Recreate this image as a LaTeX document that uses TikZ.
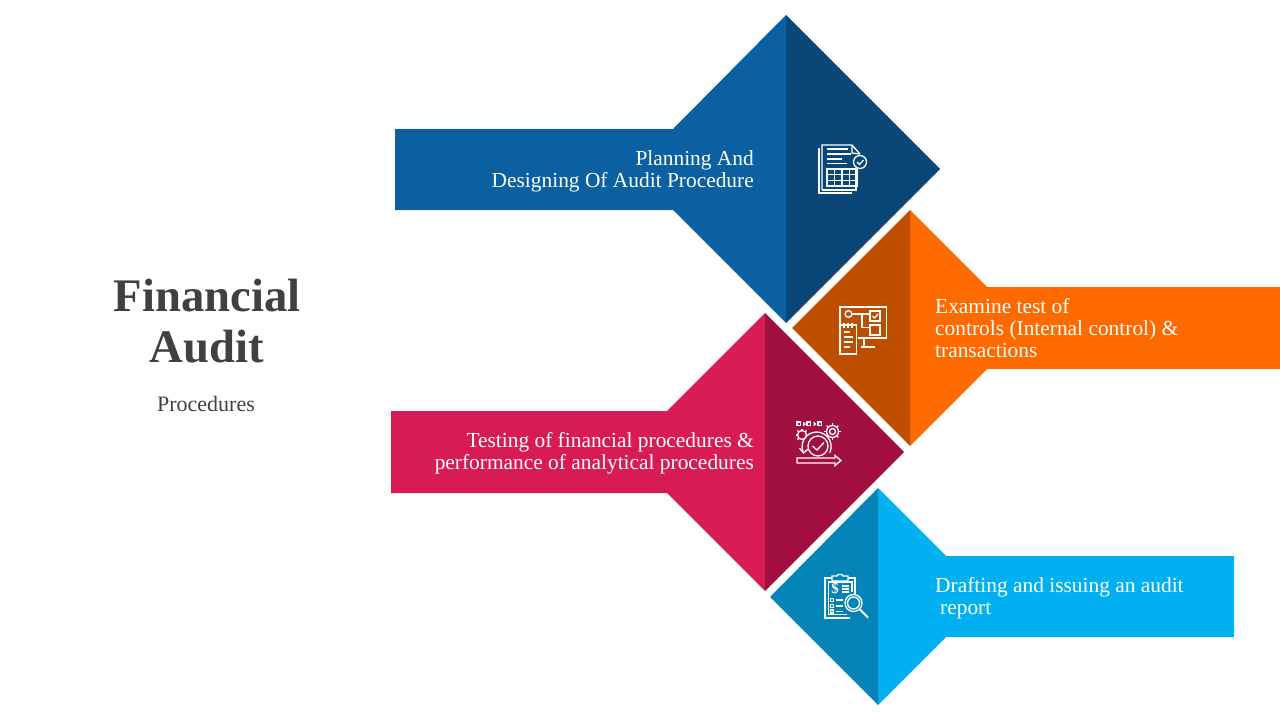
\documentclass[tikz,border=0pt]{standalone}
\usepackage{fontspec}
\setmainfont{Liberation Serif}
\usetikzlibrary{arrows.meta, positioning}
\definecolor{cblue}{HTML}{0B60A1}
\definecolor{cbluedark}{HTML}{0A4677}
\definecolor{corange}{HTML}{FF6A00}
\definecolor{corangedark}{HTML}{BF4F00}
\definecolor{cred}{HTML}{D81B55}
\definecolor{creddark}{HTML}{A2103F}
\definecolor{ccyan}{HTML}{00B0F0}
\definecolor{ccyandark}{HTML}{0484B6}
\definecolor{ctext}{HTML}{404040}
\tikzset{
  every picture/.style={x=1pt, y=-1pt},
  steptext/.style={text=white, inner sep=0pt, font=\fontsize{21.4}{22}\selectfont},
  title/.style={text=ctext, inner sep=0pt, font=\fontsize{46.7}{51}\selectfont\bfseries, align=center},
  note/.style={text=ctext, inner sep=0pt, font=\fontsize{22}{22}\selectfont},
  icon/.style={draw=white, line width=1.3pt},
}
\begin{document}
\begin{tikzpicture}
  \useasboundingbox (0,0) rectangle (1280,720);
  % title
  \node[title] (head) at (207,321) {Financial\\Audit};
  \node[note] (sub) at (206,404) {Procedures};
  % arrows
  \fill[cblue] (395,129) -- (673,129) -- (786,15) -- (786,323) -- (673,210) -- (395,210) -- cycle;
  \fill[cbluedark] (786,15) -- (940,169) -- (786,323) -- cycle;
  \fill[corange] (910,210) -- (987,287) -- (1280,287) -- (1280,369) -- (987,369) -- (910,446) -- cycle;
  \fill[corangedark] (910,210) -- (792,328) -- (910,446) -- cycle;
  \fill[cred] (391,411) -- (667,411) -- (765,313) -- (765,591) -- (667,493) -- (391,493) -- cycle;
  \fill[creddark] (765,313) -- (904,452) -- (765,591) -- cycle;
  \fill[ccyan] (878,488) -- (946,556) -- (1234,556) -- (1234,637) -- (946,637) -- (878,705) -- cycle;
  \fill[ccyandark] (878,488) -- (770,597) -- (878,705) -- cycle;
  % labels
  \node[steptext, align=right, anchor=east] (plan) at (754,171.5) {Planning And\\Designing Of Audit Procedure};
  \node[steptext, align=left, anchor=west] (examine) at (935,328.5) {Examine test of\\controls (Internal control) \&\\transactions};
  \node[steptext, align=right, anchor=east] (testing) at (754,453.5) {Testing of financial procedures \&\\performance of analytical procedures};
  \node[steptext, align=left, anchor=west] (draft) at (935,598.5) {Drafting and issuing an audit\\\hspace{5pt}report};
  % icon: page and table
  \draw[icon] (819,148) -- (819,193) -- (852,193);
  \draw[icon] (822,190) -- (822,145) -- (852,145) -- (860,154);
  \draw[icon] (856,168) -- (856,190) -- (822,190);
  \draw[icon] (852,145) -- (852,153) -- (860,154);
  \draw[icon] (860,162) circle (6.5);
  \draw[icon] (857,162) -- (859.5,164.5) -- (863.5,160);
  \draw[icon] (827,149) -- (848,149);
  \draw[icon] (827,154) -- (851,154);
  \draw[icon] (827,159) -- (842,159);
  \draw[icon] (827,163.5) -- (847,163.5);
  \draw[icon] (827,169) rectangle (857,186);
  \foreach \tx in {834.5,842,849.5} \draw[icon] (\tx,169) -- (\tx,186);
  \foreach \ty in {174.7,180.3} \draw[icon] (827,\ty) -- (857,\ty);
  % icon: screen and notepad
  \draw[icon] (840,324) -- (840,307) -- (886.5,307) -- (886.5,338) -- (858,338);
  \draw[icon] (848.5,314) circle (3.4);
  \draw[icon] (852,314) -- (870,314);
  \draw[icon] (862,314) -- (862,327.5) -- (870,327.5);
  \draw[icon] (870,311) rectangle (880,321);
  \draw[icon] (872.5,316) -- (874.5,318) -- (878,314);
  \draw[icon] (870,325) rectangle (880,335);
  \draw[icon] (864,338) -- (864,347);
  \draw[icon] (861,347) -- (875,347);
  \draw[icon] (840,325) rectangle (856.5,354);
  \foreach \rx in {844,848,852} \draw[icon] (\rx,323) -- (\rx,328);
  \draw[icon] (843.5,332) -- (850,332);
  \draw[icon] (843.5,337) -- (853,337);
  \draw[icon] (843.5,342) -- (853,342);
  \draw[icon] (843.5,347) -- (850,347);
  % icon: gears and check
  \foreach \sx in {797,807,818} \draw[icon] (\sx,422) rectangle +(3.5,3.5);
  \draw[icon] (803,422.5) -- (805,424) -- (803,425.5);
  \draw[icon] (813.5,422.5) -- (815.5,424) -- (813.5,425.5);
  \draw[icon] (832.5,431.5) circle (3);
  \draw[icon] (832.5,431.5) circle (6);
  \foreach \ang in {0,45,...,315} \draw[icon] (832.5,431.5) ++(\ang:6) -- ++(\ang:2.2);
  \draw[icon] (802,435) circle (4.5);
  \foreach \ang in {135,180,225,270,315} \draw[icon] (802,435) ++(\ang:4.5) -- ++(\ang:2);
  \draw[icon] (818,446) circle (10);
  \draw[icon] (812.5,446) -- (817,450) -- (824,442.5);
  \draw[icon] (803,451.5) arc (160:385:14.5);
  \draw[icon] (799.5,448) -- (803.5,453) -- (808,449);
  \draw[icon] (797,458) -- (835,458) -- (835,455.5) -- (841,460.5) -- (835,465.5) -- (835,463) -- (797,463) -- cycle;
  % icon: clipboard and magnifier
  \draw[icon] (852,596) -- (855,596) -- (855,578) -- (848,578);
  \draw[icon] (832,578) -- (825,578) -- (825,618) -- (850,618);
  \draw[icon] (832,581) -- (832,576) -- (837,576) -- (838,574.5) -- (842,574.5) -- (843,576) -- (848,576) -- (848,581) -- cycle;
  \draw[icon] (852,592) -- (852,582) -- (828.5,582) -- (828.5,614.5) -- (847,614.5);
  \node[text=white, inner sep=0pt, font=\fontsize{15}{15}\selectfont\bfseries] (dollar) at (835,589) {\$};
  \draw[icon] (842,586) -- (849,586);
  \draw[icon] (842,589) -- (849,589);
  \draw[icon] (842,592) -- (849,592);
  \foreach \qy in {600,606,611.5} {
    \draw[icon] (830.5,\qy-1.5) rectangle +(3,3);
    \draw[icon] (836,\qy) -- (843,\qy);
  }
  \fill[ccyandark] (853.5,603) circle (8.5);
  \draw[icon] (853.5,603) circle (8.5);
  \draw[icon] (853.5,603) circle (6);
  \draw[icon, line width=2pt] (860,609.5) -- (868,617.5);
\end{tikzpicture}
\end{document}
